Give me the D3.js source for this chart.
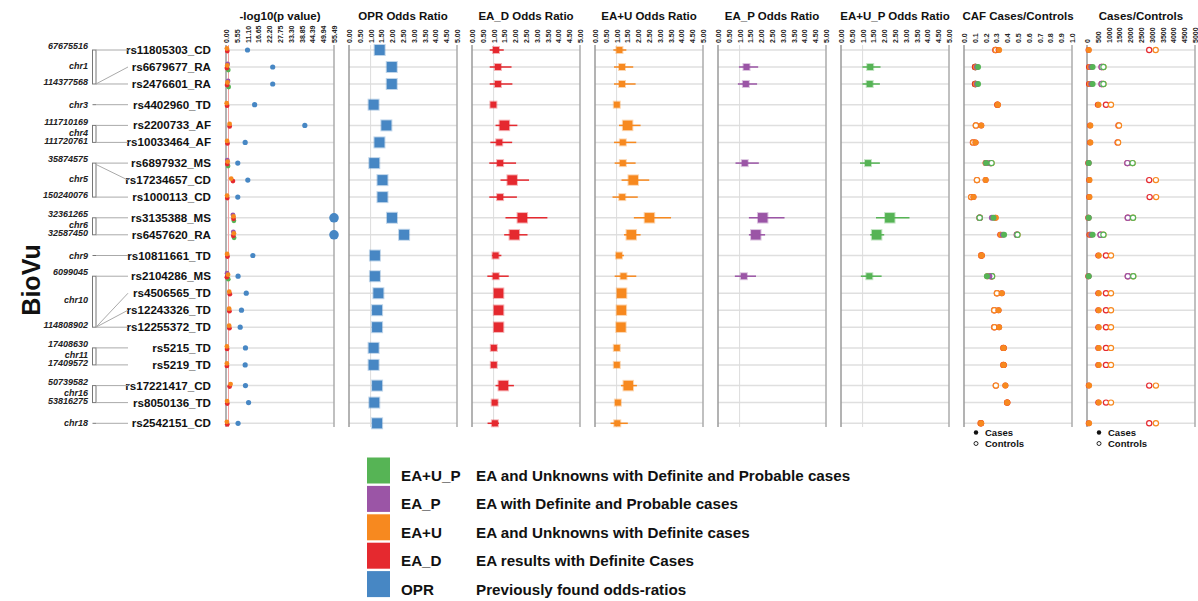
<!DOCTYPE html>
<html>
<head>
<meta charset="utf-8">
<script src="https://cdn.jsdelivr.net/npm/d3@7"></script>
<style>
body { margin: 0; background: #fff; }
text { font-family: "Liberation Sans", Arial, sans-serif; }
</style>
</head>
<body>
<div id="chart"></div>
<script>
const width = 1198;
const height = 601;

// rows
const snps = ["rs11805303_CD", "rs6679677_RA", "rs2476601_RA", "rs4402960_TD", "rs2200733_AF", "rs10033464_AF",
  "rs6897932_MS", "rs17234657_CD", "rs1000113_CD", "rs3135388_MS", "rs6457620_RA", "rs10811661_TD",
  "rs2104286_MS", "rs4506565_TD", "rs12243326_TD", "rs12255372_TD", "rs5215_TD", "rs5219_TD",
  "rs17221417_CD", "rs8050136_TD", "rs2542151_CD"];
const chrom = ["chr1", "chr1", "chr1", "chr3", "chr4", "chr4", "chr5", "chr5", "chr5", "chr6", "chr6", "chr9",
  "chr10", "chr10", "chr10", "chr10", "chr11", "chr11", "chr16", "chr16", "chr18"];
const position = [67675516, 114303808, 114377568, 185511687, 111710169, 111720761, 35874575, 40437266, 150240076,
  32361265, 32587450, 22134094, 6099045, 114746031, 114778805, 114808902, 17408630, 17409572,
  50739582, 53816275, 12769947];

// -log10(p)
const pOPR  = [11.05, 24.0, 24.0, 14.7, 40.5, 9.85, 6.05, 11.2, 6.05, 55.49, 55.49, 13.8, 6.2, 10.4, 7.95, 7.3, 10.0, 9.85, 10.0, 11.6, 6.2];
const pEAD  = [0.4, 0.2, 0.3, 0.3, 1.6, 0.5, 0.4, 3.3, 0.4, 3.6, 3.5, 0.5, 0.2, 1.7, 1.5, 1.5, 0.3, 0.2, 1.6, 0.4, 0.4];
const pEAU  = [0.2, 0.4, 0.5, 0.1, 1.6, 0.3, 0.6, 2.4, 0.3, 3.6, 3.8, 0.3, 0.8, 1.4, 1.35, 1.35, 0.2, 0.2, 2.1, 0.3, 0.2];
const pEAP  = [null, 0.6, 0.8, null, null, null, 0.4, null, null, 3.3, 3.5, null, 0.3, null, null, null, null, null, null, null, null];
const pEAUP = [null, 0.9, 1.1, null, null, null, 0.8, null, null, 3.8, 3.9, null, 0.9, null, null, null, null, null, null, null, null];

// odds ratios with 95% CI
const orOPR = [1.42, 1.98, 1.98, 1.14, 1.73, 1.41, 1.17, 1.55, 1.55, 1.99, 2.55, 1.20, 1.20, 1.36, 1.30, 1.30, 1.14, 1.14, 1.30, 1.17, 1.30];
const loOPR = [1.36, 1.88, 1.88, 1.08, 1.66, 1.34, 1.11, 1.47, 1.44, 1.90, 2.45, 1.13, 1.13, 1.29, 1.23, 1.23, 1.08, 1.08, 1.23, 1.11, 1.24];
const hiOPR = [1.48, 2.10, 2.10, 1.20, 1.80, 1.48, 1.23, 1.63, 1.72, 2.08, 2.65, 1.27, 1.27, 1.43, 1.37, 1.37, 1.20, 1.20, 1.37, 1.23, 1.36];

const orEAD = [1.11, 1.20, 1.20, 0.99, 1.50, 1.26, 1.30, 1.86, 1.30, 2.33, 1.96, 1.09, 1.10, 1.23, 1.23, 1.23, 1.01, 1.01, 1.45, 1.05, 1.06];
const loEAD = [0.82, 0.82, 0.82, 0.90, 1.09, 0.85, 0.80, 1.32, 0.80, 1.55, 1.49, 0.93, 0.71, 1.10, 1.10, 1.10, 0.88, 0.90, 1.09, 0.93, 0.72];
const hiEAD = [1.47, 1.83, 1.87, 1.10, 2.10, 1.86, 2.04, 2.64, 2.08, 3.49, 2.57, 1.36, 1.70, 1.37, 1.37, 1.37, 1.16, 1.10, 1.94, 1.19, 1.25];

const orEAU = [1.13, 1.25, 1.25, 1.01, 1.51, 1.29, 1.29, 1.77, 1.26, 2.52, 1.68, 1.11, 1.32, 1.23, 1.22, 1.20, 1.01, 1.01, 1.54, 1.06, 1.03];
const loEAU = [0.85, 0.88, 0.88, 0.93, 1.11, 0.88, 0.91, 1.23, 0.81, 1.80, 1.34, 0.96, 0.91, 1.10, 1.09, 1.08, 0.95, 0.95, 1.20, 0.97, 0.72];
const hiEAU = [1.45, 1.77, 1.88, 1.09, 2.11, 1.91, 1.88, 2.51, 1.98, 3.52, 2.11, 1.34, 1.91, 1.36, 1.35, 1.33, 1.10, 1.08, 1.94, 1.15, 1.52];

const orEAP = [null, 1.32, 1.29, null, null, null, 1.24, null, null, 2.07, 1.75, null, 1.20, null, null, null, null, null, null, null, null];
const loEAP = [null, 0.97, 0.92, null, null, null, 0.81, null, null, 1.43, 1.43, null, 0.78, null, null, null, null, null, null, null, null];
const hiEAP = [null, 1.86, 1.81, null, null, null, 1.89, null, null, 3.08, 2.18, null, 1.76, null, null, null, null, null, null, null, null];

const orEAUP = [null, 1.35, 1.33, null, null, null, 1.25, null, null, 2.26, 1.65, null, 1.31, null, null, null, null, null, null, null, null];
const loEAUP = [null, 0.99, 0.99, null, null, null, 0.88, null, null, 1.62, 1.35, null, 0.92, null, null, null, null, null, null, null, null];
const hiEAUP = [null, 1.83, 1.80, null, null, null, 1.80, null, null, 3.17, 2.00, null, 1.88, null, null, null, null, null, null, null, null];

// coded allele frequency (cases / controls); D and P share controls, U and U_P share controls
const cafCaseD  = [0.32, 0.10, 0.10, 0.31, 0.16, 0.107, 0.20, 0.20, 0.088, 0.29, 0.335, 0.165, 0.215, 0.35, 0.32, 0.325, 0.368, 0.368, 0.383, 0.40, 0.159];
const cafCaseU  = [0.325, 0.11, 0.11, 0.313, 0.16, 0.107, 0.20, 0.20, 0.088, 0.295, 0.34, 0.165, 0.22, 0.35, 0.32, 0.325, 0.368, 0.368, 0.383, 0.40, 0.159];
const cafCaseP  = [null, 0.12, 0.12, null, null, null, 0.205, null, null, 0.258, 0.36, null, 0.235, null, null, null, null, null, null, null, null];
const cafCaseUP = [null, 0.13, 0.13, null, null, null, 0.205, null, null, 0.273, 0.371, null, 0.212, null, null, null, null, null, null, null, null];
const cafCtrlD  = [0.29, 0.105, 0.105, 0.31, 0.11, 0.083, 0.245, 0.12, 0.067, 0.145, 0.49, 0.16, 0.255, 0.305, 0.28, 0.28, 0.365, 0.365, 0.295, 0.40, 0.155];
const cafCtrlU  = [0.295, 0.105, 0.105, 0.31, 0.11, 0.085, 0.255, 0.12, 0.067, 0.145, 0.495, 0.16, 0.26, 0.305, 0.28, 0.282, 0.365, 0.365, 0.295, 0.40, 0.155];

// numbers of cases / controls
const nCaseD  = [70, 90, 90, 500, 140, 140, 55, 100, 100, 55, 110, 520, 55, 520, 520, 520, 520, 520, 80, 520, 80];
const nCaseU  = [85, 130, 130, 530, 155, 155, 70, 115, 115, 70, 150, 545, 70, 545, 545, 545, 545, 545, 95, 545, 95];
const nCaseP  = [null, 200, 200, null, null, null, 75, null, null, 75, 200, null, 75, null, null, null, null, null, null, null, null];
const nCaseUP = [null, 260, 260, null, null, null, 80, null, null, 80, 260, null, 80, null, null, null, null, null, null, null, null];
const nCtrlD  = [2880, 680, 680, 880, 1460, 1420, 1870, 2880, 2900, 1890, 630, 880, 1890, 880, 880, 880, 880, 880, 2880, 880, 2880];
const nCtrlU  = [3180, 760, 760, 1110, 1480, 1440, 2110, 3190, 3200, 2130, 760, 1110, 2140, 1110, 1110, 1110, 1110, 1110, 3190, 1110, 3190];

// axes
const pTicks = [0, 5.55, 11.10, 16.65, 22.20, 27.75, 33.30, 38.85, 44.39, 49.94, 55.49];
const orTicks = [0, 0.5, 1, 1.5, 2, 2.5, 3, 3.5, 4, 4.5, 5];
const cafTicks = [0, 0.1, 0.2, 0.3, 0.4, 0.5, 0.6, 0.7, 0.8, 0.9, 1.0];
const nTicks = [0, 500, 1000, 1500, 2000, 2500, 3000, 3500, 4000, 4500, 5000];

const legendCodes = ["EA+U_P", "EA_P", "EA+U", "EA_D", "OPR"];
const legendText = ["EA and Unknowns with Definite and Probable cases", "EA with Definite and Probable cases",
  "EA and Unknowns with Definite cases", "EA results with Definite Cases", "Previously found odds-ratios"];

const colors = {OPR: "#4787c4", EAD: "#e5292f", EAU: "#f7891f", EAP: "#9b55a6", EAUP: "#56b455"};

const svg = d3.select("#chart").append("svg")
  .attr("width", width)
  .attr("height", height);

// row positions with a small gap between chromosomes
const groups = Array.from(new Set(chrom));
const slot = snps.map((d, i) => i + groups.indexOf(chrom[i]) * 0.218);
const y = d3.scaleLinear().domain([0, d3.max(slot)]).range([50, 423.3]);
const rowY = i => y(slot[i]);

const panelTop = 45, panelBottom = 427, panelW = 108;
const panelX = d3.scaleLinear().domain([0, 7]).range([226, 1087]);

const panels = [
  {title: "-log10(p value)", domain: [0, 55.49], ticks: pTicks, fmt: d3.format(".2f")},
  {title: "OPR Odds Ratio", domain: [0, 5], ticks: orTicks, fmt: d3.format(".2f"), ref: 1},
  {title: "EA_D Odds Ratio", domain: [0, 5], ticks: orTicks, fmt: d3.format(".2f"), ref: 1},
  {title: "EA+U Odds Ratio", domain: [0, 5], ticks: orTicks, fmt: d3.format(".2f"), ref: 1},
  {title: "EA_P Odds Ratio", domain: [0, 5], ticks: orTicks, fmt: d3.format(".2f"), ref: 1},
  {title: "EA+U_P Odds Ratio", domain: [0, 5], ticks: orTicks, fmt: d3.format(".2f"), ref: 1},
  {title: "CAF Cases/Controls", domain: [0, 1], ticks: cafTicks, fmt: d3.format(".1f")},
  {title: "Cases/Controls", domain: [0, 5000], ticks: nTicks, fmt: d3.format("d")}
];

panels.forEach((p, k) => {
  const x0 = panelX(k);
  const x = d3.scaleLinear().domain(p.domain).range([x0, x0 + panelW]);
  p.x = x;
  const g = svg.append("g");

  g.selectAll("line.row")
    .data(snps)
    .enter()
    .append("line")
    .attr("class", "row")
    .attr("x1", x0).attr("x2", x0 + panelW)
    .attr("y1", (d, i) => rowY(i)).attr("y2", (d, i) => rowY(i))
    .attr("stroke", "#dfdfdf")
    .attr("stroke-width", 1.5);

  if (p.ref !== undefined) {
    g.append("line")
      .attr("x1", x(p.ref)).attr("x2", x(p.ref))
      .attr("y1", panelTop).attr("y2", panelBottom)
      .attr("stroke", "#dcdcdc");
  }
  if (k === 0) {
    // p = 0.05
    g.append("line")
      .attr("x1", x(1.3)).attr("x2", x(1.3))
      .attr("y1", panelTop).attr("y2", panelBottom)
      .attr("stroke", "#f2a0a0");
  }

  g.append("line")
    .attr("x1", x0).attr("x2", x0).attr("y1", panelTop).attr("y2", panelBottom)
    .attr("stroke", "#9a9a9a").attr("stroke-width", 1.5);
  g.append("line")
    .attr("x1", x0 + panelW).attr("x2", x0 + panelW).attr("y1", panelTop).attr("y2", panelBottom)
    .attr("stroke", "#ababab").attr("stroke-width", 1.5);

  const axis = d3.axisTop(x).tickValues(p.ticks).tickFormat(p.fmt).tickSize(0);
  const ag = svg.append("g")
    .attr("transform", `translate(0,${panelTop})`)
    .call(axis);
  ag.select(".domain").remove();
  ag.selectAll("text")
    .attr("transform", "rotate(-90)")
    .attr("x", 2).attr("y", 0).attr("dy", "0.35em")
    .style("text-anchor", "start")
    .style("font-family", "'Liberation Sans', Arial, sans-serif")
    .style("font-size", "7px")
    .style("font-weight", "bold")
    .attr("fill", "#222");

  svg.append("text")
    .attr("x", x0 + panelW / 2).attr("y", 20)
    .attr("text-anchor", "middle")
    .style("font-size", "11.5px")
    .style("font-weight", "bold")
    .attr("fill", "#111")
    .text(p.title);
});

const rows = d3.range(snps.length);

// p-value panel
const xp = panels[0].x;
const smallDots = [
  {vals: pEAUP, color: colors.EAUP, dy: 3},
  {vals: pEAP, color: colors.EAP, dy: -3},
  {vals: pEAD, color: colors.EAD, dy: 1},
  {vals: pEAU, color: colors.EAU, dy: -1.5}
];
smallDots.forEach(s => {
  svg.append("g").selectAll("circle")
    .data(rows.filter(i => s.vals[i] != null))
    .enter()
    .append("circle")
    .attr("cx", i => xp(s.vals[i]) + 0.5)
    .attr("cy", i => rowY(i) + s.dy)
    .attr("r", 2.4)
    .attr("fill", s.color);
});
svg.append("g").selectAll("circle")
  .data(rows)
  .enter()
  .append("circle")
  .attr("cx", i => xp(Math.min(pOPR[i], 55.49)))
  .attr("cy", i => rowY(i))
  .attr("r", i => pOPR[i] >= 55.49 ? 4.8 : 2.6)
  .attr("fill", colors.OPR);

// forest panels
const boxSize = d3.scaleThreshold().domain([1.3, 5]).range([6, 9.5, 10]);

function forest(k, or, lo, hi, pv, color) {
  const x = panels[k].x;
  const idx = rows.filter(i => or[i] != null);
  const g = svg.append("g");
  g.selectAll("line")
    .data(idx)
    .enter()
    .append("line")
    .attr("x1", i => x(lo[i])).attr("x2", i => x(hi[i]))
    .attr("y1", i => rowY(i)).attr("y2", i => rowY(i))
    .attr("stroke", color)
    .attr("stroke-width", 1.5);
  g.selectAll("rect")
    .data(idx)
    .enter()
    .append("rect")
    .attr("x", i => x(or[i]) - boxSize(pv[i]) / 2)
    .attr("y", i => rowY(i) - boxSize(pv[i]) / 2)
    .attr("width", i => boxSize(pv[i]))
    .attr("height", i => boxSize(pv[i]))
    .attr("fill", color)
    .attr("stroke", color)
    .attr("stroke-opacity", 0.35)
    .attr("stroke-width", 2);
}
forest(1, orOPR, loOPR, hiOPR, pOPR, colors.OPR);
forest(2, orEAD, loEAD, hiEAD, pEAD, colors.EAD);
forest(3, orEAU, loEAU, hiEAU, pEAU, colors.EAU);
forest(4, orEAP, loEAP, hiEAP, pEAP, colors.EAP);
forest(5, orEAUP, loEAUP, hiEAUP, pEAUP, colors.EAUP);

// cases / controls panels
function dots(k, series) {
  const x = panels[k].x;
  series.forEach(s => {
    svg.append("g").selectAll("circle")
      .data(rows.filter(i => s.ctrl[i] != null && s.cases[i] != null))
      .enter()
      .append("circle")
      .attr("cx", i => x(s.ctrl[i]))
      .attr("cy", i => rowY(i))
      .attr("r", 2.6)
      .attr("fill", "#fff")
      .attr("stroke", s.color)
      .attr("stroke-width", 1.2);
  });
  series.forEach(s => {
    svg.append("g").selectAll("circle")
      .data(rows.filter(i => s.cases[i] != null))
      .enter()
      .append("circle")
      .attr("cx", i => x(s.cases[i]))
      .attr("cy", i => rowY(i))
      .attr("r", 3)
      .attr("fill", s.color);
  });

  const lx = panelX(k) + 12;
  svg.append("circle").attr("cx", lx).attr("cy", 432.5).attr("r", 2.2).attr("fill", "#111");
  svg.append("circle").attr("cx", lx).attr("cy", 443.5).attr("r", 2).attr("fill", "#fff")
    .attr("stroke", "#111").attr("stroke-width", 0.9);
  svg.append("text").attr("x", lx + 9).attr("y", 435.8)
    .style("font-size", "9.5px").style("font-weight", "bold").attr("fill", "#111").text("Cases");
  svg.append("text").attr("x", lx + 9).attr("y", 446.8)
    .style("font-size", "9.5px").style("font-weight", "bold").attr("fill", "#111").text("Controls");
}
dots(6, [
  {cases: cafCaseD, ctrl: cafCtrlD, color: colors.EAD},
  {cases: cafCaseU, ctrl: cafCtrlU, color: colors.EAU},
  {cases: cafCaseP, ctrl: cafCtrlD, color: colors.EAP},
  {cases: cafCaseUP, ctrl: cafCtrlU, color: colors.EAUP}
]);
dots(7, [
  {cases: nCaseD, ctrl: nCtrlD, color: colors.EAD},
  {cases: nCaseU, ctrl: nCtrlU, color: colors.EAU},
  {cases: nCaseP, ctrl: nCtrlD, color: colors.EAP},
  {cases: nCaseUP, ctrl: nCtrlU, color: colors.EAUP}
]);

// SNP labels
svg.append("g").selectAll("text")
  .data(snps)
  .enter()
  .append("text")
  .attr("x", 211)
  .attr("y", (d, i) => rowY(i))
  .attr("dy", "0.35em")
  .attr("text-anchor", "end")
  .style("font-size", "11.6px")
  .style("font-weight", "bold")
  .attr("fill", "#111")
  .text(d => d);

// chromosome brackets
const tree = svg.append("g");
groups.forEach(c => {
  const idx = rows.filter(i => chrom[i] === c);
  const top = rowY(idx[0]);
  const bottom = rowY(idx[idx.length - 1]);
  const pmin = d3.min(idx, i => position[i]);
  const pmax = d3.max(idx, i => position[i]);
  const py = d3.scaleLinear().domain([pmin, pmax]).range([top, bottom]);

  if (idx.length > 1) {
    tree.append("rect")
      .attr("x", 92.5).attr("y", top).attr("width", 3.5).attr("height", bottom - top)
      .attr("fill", "none").attr("stroke", "#777").attr("stroke-width", 1);
  } else {
    tree.append("line")
      .attr("x1", 92.5).attr("x2", 96).attr("y1", top).attr("y2", top)
      .attr("stroke", "#777").attr("stroke-width", 1);
  }
  idx.forEach(i => {
    tree.append("line")
      .attr("x1", 96).attr("y1", idx.length > 1 ? py(position[i]) : rowY(i))
      .attr("x2", 128).attr("y2", rowY(i))
      .attr("stroke", "#aaa").attr("stroke-width", 1);
  });

  const lab = (yy, t) => tree.append("text")
    .attr("x", 88).attr("y", yy).attr("dy", "0.35em")
    .attr("text-anchor", "end")
    .style("font-size", "9px").style("font-weight", "bold").style("font-style", "italic")
    .attr("fill", "#222")
    .text(t);
  if (idx.length > 1) {
    lab(top - 4, pmin);
    lab((top + bottom) / 2 - 1.5, c);
    lab(bottom - 2, pmax);
  } else {
    lab(top, c);
  }
});

svg.append("text")
  .attr("transform", "translate(40,280) rotate(-90)")
  .attr("text-anchor", "middle")
  .style("font-size", "25px")
  .style("font-weight", "bold")
  .attr("fill", "#111")
  .text("BioVu");

// legend
const legendColors = [colors.EAUP, colors.EAP, colors.EAU, colors.EAD, colors.OPR];
const leg = svg.append("g");
legendCodes.forEach((code, k) => {
  const top = 457.5 + k * 28.4;
  leg.append("rect")
    .attr("x", 367).attr("y", top).attr("width", 23).attr("height", 26)
    .attr("fill", legendColors[k]);
  leg.append("text")
    .attr("x", 401).attr("y", top + 23.5)
    .style("font-size", "15.2px").style("font-weight", "bold").attr("fill", "#111")
    .text(code);
  leg.append("text")
    .attr("x", 476).attr("y", top + 23.5)
    .style("font-size", "15.2px").style("font-weight", "bold").attr("fill", "#111")
    .text(legendText[k]);
});
</script>
</body>
</html>
